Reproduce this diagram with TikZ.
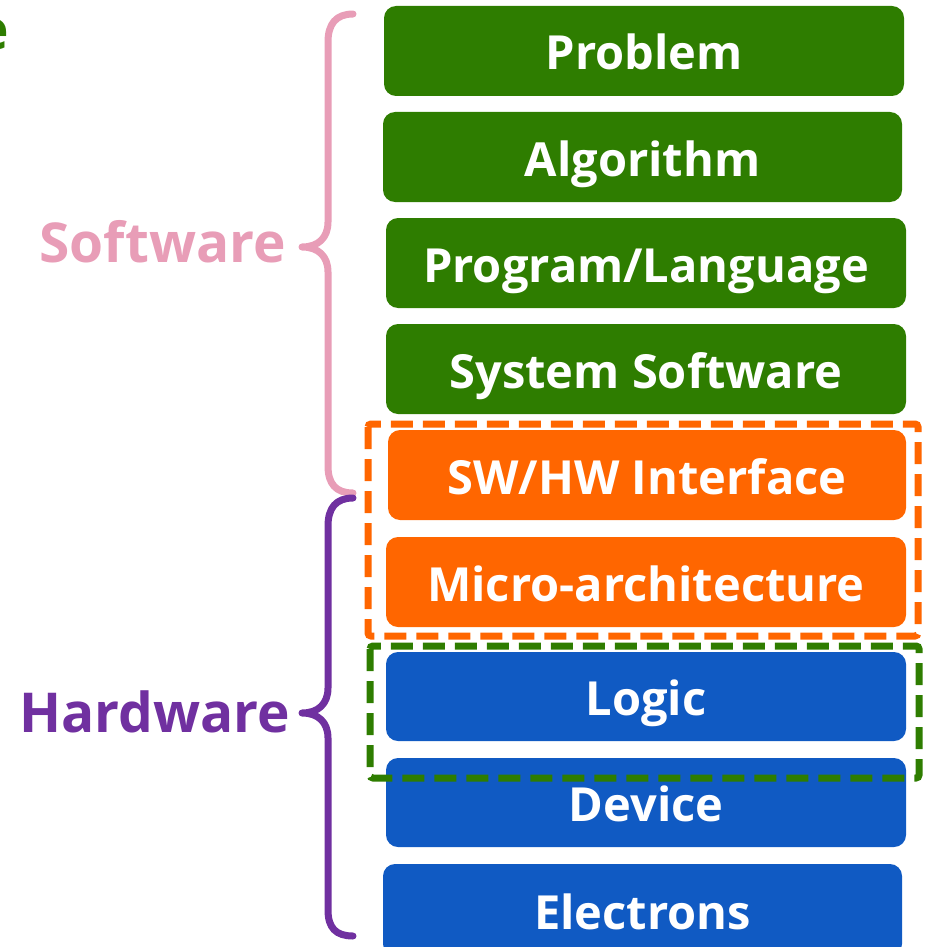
\documentclass[tikz,border=0pt]{standalone}
\usepackage{fontspec}
\setmainfont{Open Sans}
\definecolor{lgreen}{RGB}{46,125,0}
\definecolor{lorange}{RGB}{255,102,0}
\definecolor{lblue}{RGB}{16,90,195}
\definecolor{spink}{RGB}{232,157,183}
\definecolor{hpurple}{RGB}{112,48,160}
\begin{document}
\begin{tikzpicture}[x=1pt,y=-1pt,
  layer/.style={fill=#1, rounded corners=12pt, text=white, inner sep=0pt,
    minimum width=520pt, minimum height=90pt, text height=45pt, text depth=7pt,
    font=\bfseries\fontsize{47}{54}\selectfont},
  dashbox/.style={draw=#1, line width=7pt, dash pattern=on 22pt off 10pt, rounded corners=3pt},
  brace/.style={draw=#1, line width=7pt, line cap=round, line join=round},
  side/.style={text=#1, font=\bfseries\fontsize{55}{64}\selectfont, inner sep=0pt}]
\useasboundingbox (0,0) rectangle (926,947);
\node[layer=lgreen] (p) at (644,51) {Problem};
\node[layer=lgreen, minimum width=519pt] (a) at (642.5,157) {Algorithm};
\node[layer=lgreen] (l) at (646,263) {Program/Language};
\node[layer=lgreen] (s) at (646,369) {System Software};
\node[layer=lorange, minimum width=518pt] (i) at (647,475) {SW/HW Interface};
\node[layer=lorange] (m) at (646,582) {Micro-architecture};
\node[layer=lblue, minimum height=89pt] (g) at (646,696.5) {Logic};
\node[layer=lblue, minimum height=89pt] (d) at (646,802.5) {Device};
\node[layer=lblue, minimum width=519pt, minimum height=92pt] (e) at (642.5,910) {Electrons};
\draw[dashbox=lorange] (368,424) rectangle (918,636);
\draw[dashbox=lgreen] (370,646) rectangle (919,778);
\draw[brace=spink] (353,14) .. controls (336,14) and (328,24) .. (328,42)
  -- (328,222) .. controls (328,238) and (318,247) .. (302,247)
  .. controls (318,247) and (328,256) .. (328,272)
  -- (328,466) .. controls (328,484) and (336,493) .. (353,493);
\draw[brace=hpurple] (353,498) .. controls (336,498) and (328,508) .. (328,526)
  -- (328,688) .. controls (328,704) and (318,713) .. (302,713)
  .. controls (318,713) and (328,722) .. (328,738)
  -- (328,910) .. controls (328,928) and (336,936) .. (353,936);
\node[side=spink, anchor=east] (sw) at (286,242) {Software};
\node[side=hpurple, anchor=east] (hw) at (290,712) {Hardware};
\node[side=lgreen, anchor=base east] (cut) at (9,50) {e};
\end{tikzpicture}
\end{document}
